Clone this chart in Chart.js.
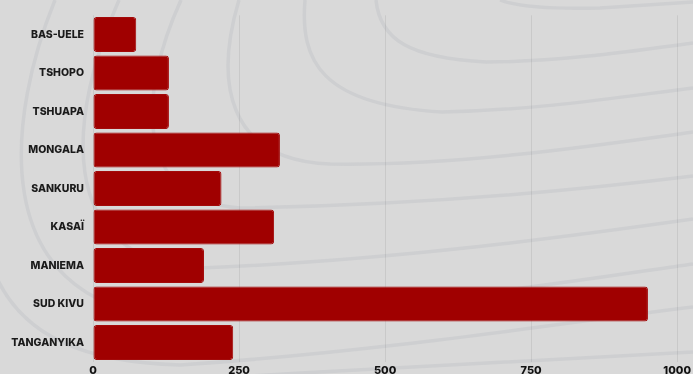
<!DOCTYPE html>
<html lang="fr">
<head>
    <meta charset="UTF-8">
    <title>Provinces</title>
    <script src="https://cdn.jsdelivr.net/npm/chart.js@4.4.0/dist/chart.umd.min.js"></script>
    <style>
        html, body { margin: 0; padding: 0; overflow: hidden; background: #d9d9d9; }
        .wrap { position: relative; width: 693px; height: 379px; }
        .wrap svg { position: absolute; left: 0; top: 0; }
        .wrap canvas { position: relative; }
    </style>
</head>
<body>
<div class="wrap">
    <!-- decorative contour lines in the background -->
    <svg width="693" height="374" viewBox="0 0 693 374" fill="none" stroke="#cecfd1" stroke-width="3.5">
        <path d="M500,0 C520,8 560,9 600,8 L693,2"/>
        <path d="M376,0 C380,40 410,58 486,62 C560,62 640,50 693,43"/>
        <path d="M305,0 C300,60 320,105 442,112 C540,110 620,97 693,88"/>
        <path d="M239,0 C215,80 225,160 330,164 C460,166 600,145 693,132"/>
        <path d="M181,0 C140,90 130,200 240,208 C420,205 580,190 693,176"/>
        <path d="M119,0 C70,110 50,260 200,268 C400,260 580,235 693,219"/>
        <path d="M55,0 C10,110 -20,300 170,318 C400,310 580,280 693,264"/>
        <path d="M-10,60 C-40,250 -20,360 180,365 C400,350 580,320 693,307"/>
        <path d="M100,385 C300,372 550,360 693,352"/>
    </svg>
    <canvas id="chart"></canvas>
</div>
<script>
    const provinces = ['BAS-UELE', 'TSHOPO', 'TSHUAPA', 'MONGALA', 'SANKURU', 'KASAÏ', 'MANIEMA', 'SUD KIVU', 'TANGANYIKA'];
    const values = [74, 130, 130, 320, 220, 310, 190, 950, 240];
    const xTicks = [0, 250, 500, 750, 1000];

    const ctx = document.getElementById('chart');

    new Chart(ctx, {
        type: 'bar',
        data: {
            labels: provinces,
            datasets: [{
                data: values,
                backgroundColor: '#a00000',
                borderColor: '#a30a0a',
                borderWidth: 1,
                borderRadius: 3,
                borderSkipped: false,
                barPercentage: 0.91,
                categoryPercentage: 1
            }]
        },
        options: {
            indexAxis: 'y',
            responsive: true,
            maintainAspectRatio: false,
            animation: false,
            layout: { padding: { top: 2, right: 2 } },
            plugins: {
                legend: { display: false },
                tooltip: { enabled: false }
            },
            scales: {
                x: {
                    min: 0,
                    max: 1000,
                    afterBuildTicks: (scale) => {
                        scale.ticks = xTicks.map(v => ({ value: v }));
                    },
                    grid: { color: 'rgba(0,0,0,0.07)', drawTicks: false },
                    border: { display: false },
                    ticks: {
                        padding: 2,
                        color: '#111',
                        font: { family: 'Inter', size: 11, weight: 800 },
                        callback: (v) => String(v)
                    }
                },
                y: {
                    afterFit: (scale) => { scale.width = 93; },
                    grid: { display: false, drawTicks: false },
                    border: { display: false },
                    ticks: {
                        padding: 9,
                        color: '#1a1a1a',
                        font: { family: 'Inter', size: 10.5, weight: 800 }
                    }
                }
            }
        }
    });
</script>
</body>
</html>
